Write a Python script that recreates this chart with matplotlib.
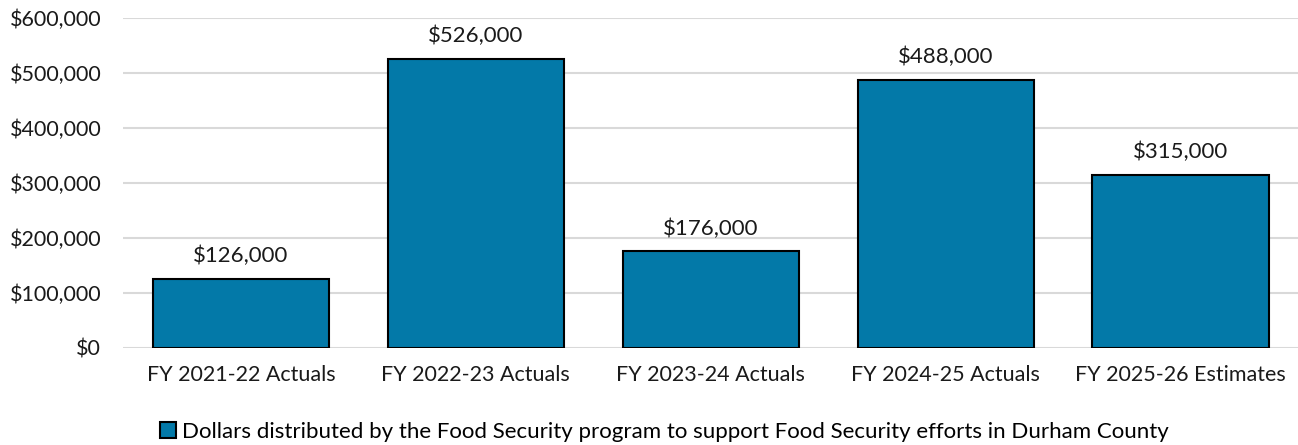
import matplotlib
matplotlib.use("Agg")
import matplotlib.pyplot as plt
from matplotlib.ticker import FuncFormatter
from matplotlib.patches import Patch

categories = ["FY 2021-22 Actuals", "FY 2022-23 Actuals", "FY 2023-24 Actuals",
              "FY 2024-25 Actuals", "FY 2025-26 Estimates"]
values = [126000, 526000, 176000, 488000, 315000]
series_name = "Dollars distributed by the Food Security program to support Food Security efforts in Durham County"

plt.rcParams['font.family'] = ['Lato', 'DejaVu Sans']

fig = plt.figure(figsize=(12.98, 4.45), dpi=100)
ax = fig.add_axes([0.0951, 0.218, 0.9049, 0.7416])

color = "#0379A8"
x = range(len(categories))
bars = ax.bar(x, values, width=0.75, color=color, edgecolor="black", linewidth=1.5, zorder=3)

ax.set_xlim(-0.5, len(categories) - 0.5)
ax.set_ylim(0, 600000)
ax.set_yticks(range(0, 600001, 100000))
ax.yaxis.set_major_formatter(FuncFormatter(lambda v, p: f"${v:,.0f}"))
ax.set_xticks(list(x))
ax.set_xticklabels(categories)
ax.tick_params(axis='both', length=0, labelsize=15.5, colors="#1a1a1a")
ax.tick_params(axis='y', pad=16)
ax.tick_params(axis='x', pad=12)
ax.grid(axis='y', color="#D9D9D9", linewidth=1.5, zorder=0)
for s in ax.spines.values():
    s.set_visible(False)

for b, v in zip(bars, values):
    ax.annotate(f"${v:,.0f}", (b.get_x() + b.get_width() / 2, v), xytext=(0, 9),
                textcoords="offset points", ha="center", va="bottom", fontsize=16, color="#1a1a1a")

handle = Patch(facecolor=color, edgecolor="black", linewidth=1.5)
fig.legend([handle], [series_name], loc="center", bbox_to_anchor=(0.512, 0.03), frameon=False,
           fontsize=16, handlelength=0.7, handleheight=0.7, handletextpad=0.3)

fig.savefig("out.png", dpi=100)
